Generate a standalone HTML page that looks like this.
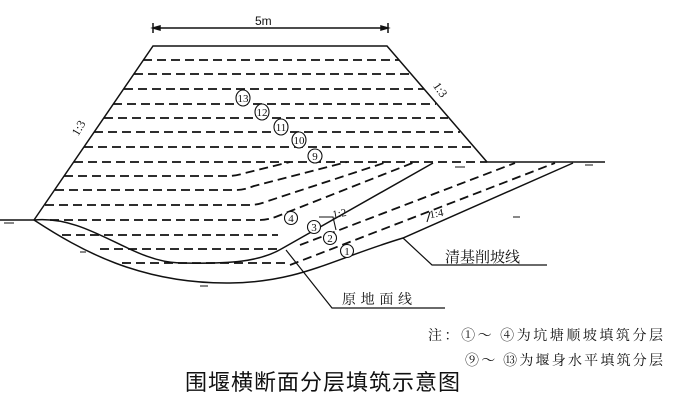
<!DOCTYPE html>
<html><head><meta charset="utf-8"><style>html,body{margin:0;padding:0;background:#fff;}svg{display:block}</style></head>
<body>
<svg width="684" height="407" viewBox="0 0 684 407" xmlns="http://www.w3.org/2000/svg" font-family="'Liberation Serif','Noto Serif CJK SC',serif">
<g stroke="#111" fill="none" stroke-width="1.5">
<line x1="153" y1="28" x2="388" y2="28"/>
<line x1="153" y1="23" x2="153" y2="33"/>
<line x1="388" y1="23" x2="388" y2="33"/>
<path d="M153 28 l7 -2 v4 z M388 28 l-7 -2 v4 z" fill="#111"/>
<polyline points="34,220 153,46 387,46 487,162"/>
<line x1="0" y1="220" x2="34" y2="220"/>
<line x1="487" y1="162" x2="605" y2="162"/>
<path d="M34,220 C90,215 130,262 180,263 C230,264 260,262 283,248 L433,163"/>
<path d="M34,220 C80,250 140,284 230,283 C300,282 330,260 403,238 L573,163"/>
<polyline points="403,238 432,265 547,265" stroke-width="1.2"/>
<polyline points="286,250 332,308 445,308" stroke-width="1.2"/>
</g>
<g stroke="#111" fill="none" stroke-width="1.8" stroke-dasharray="9,5">
<line x1="143" y1="60" x2="399" y2="60"/>
<line x1="134" y1="74" x2="411" y2="74"/>
<line x1="124" y1="89" x2="424" y2="89"/>
<line x1="113" y1="104" x2="436" y2="104"/>
<line x1="104" y1="118" x2="448" y2="118"/>
<line x1="94" y1="132" x2="460" y2="132"/>
<line x1="84" y1="147" x2="472" y2="147"/>
<line x1="74" y1="162" x2="487" y2="162"/>
<path d="M64,176 H228 Q236,176 245,173 L290,162"/>
<path d="M55,190 H236 Q244,190 254,186 L347,162"/>
<path d="M45,205 H250 Q258,205 268,201 L387,162"/>
<path d="M50,220 H260 Q268,220 278,216 L415,162"/>
<path d="M62,235 H278"/>
<path d="M100,249 H282"/>
<path d="M122,263 H287"/>
<path d="M300,245 L515,163"/>
<path d="M290,265 L555,163"/>
</g>
<g stroke="#111" stroke-width="1.1" fill="none">
<polyline points="319,217 333,217 336,230"/>
<line x1="427" y1="222" x2="430" y2="212"/>
<path d="M4,223 h10 M455,167 h10 M585,165 h8 M513,217 h7 M200,286 h8 M80,252 h6 M345,255 h6"/>
</g>
<g stroke="#111" fill="#fff" stroke-width="1.1">
<ellipse cx="243" cy="98" rx="7" ry="8"/>
<ellipse cx="262" cy="112" rx="7" ry="8"/>
<ellipse cx="281" cy="127" rx="7" ry="8"/>
<ellipse cx="299" cy="140" rx="7" ry="8"/>
<ellipse cx="315" cy="156" rx="7" ry="7"/>
<circle cx="291" cy="218" r="6.5"/>
<circle cx="314" cy="227" r="6.5"/>
<circle cx="330" cy="238" r="6.5"/>
<circle cx="347" cy="251" r="6.5"/>
</g>
<g font-size="11" fill="#111" text-anchor="middle">
<text x="243" y="102">13</text><text x="262" y="116">12</text><text x="281" y="131">11</text><text x="299" y="144">10</text><text x="315" y="160">9</text>
<text x="291" y="222">4</text><text x="314" y="231">3</text><text x="330" y="242">2</text><text x="347" y="255">1</text>
</g>
<g fill="#111" font-size="12">
<text x="255" y="25" font-family="'Liberation Sans',sans-serif">5m</text>
<text transform="translate(82,130) rotate(-60)" text-anchor="middle">1:3</text>
<text transform="translate(437,92) rotate(55)" text-anchor="middle">1:3</text>
<text transform="translate(340,217) rotate(-10)" text-anchor="middle" font-size="11">1:2</text>
<text transform="translate(437,217) rotate(-10)" text-anchor="middle" font-size="11">1:4</text>
<text x="445" y="262" font-size="15" textLength="75">清基削坡线</text>
<text x="342" y="304" font-size="14" textLength="70">原地面线</text>
<text x="428" y="340" font-size="14" textLength="235">注：①～ ④为坑塘顺坡填筑分层</text>
<text x="465" y="365" font-size="14" textLength="198">⑨～ ⑬为堰身水平填筑分层</text>
<text x="185" y="390" font-size="22" textLength="275" font-family="'Liberation Sans','Noto Sans CJK SC',sans-serif">围堰横断面分层填筑示意图</text>
</g>
</svg>
</body></html>
